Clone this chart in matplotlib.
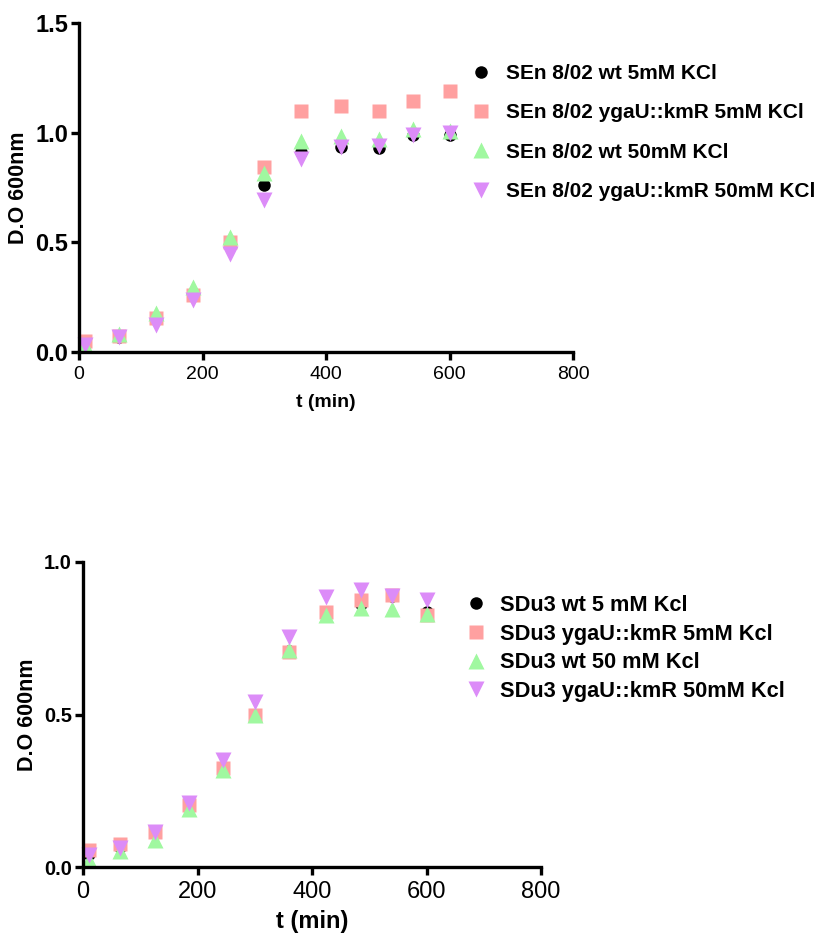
import matplotlib
matplotlib.use('Agg')
import matplotlib.pyplot as plt

plt.rcParams['font.family'] = ['Liberation Sans', 'DejaVu Sans']

t = [10, 65, 125, 185, 245, 300, 360, 425, 485, 540, 600]

# top panel: SEn 8/02
sen_labels = ['SEn 8/02 wt 5mM KCl', 'SEn 8/02 ygaU::kmR 5mM KCl',
              'SEn 8/02 wt 50mM KCl', 'SEn 8/02 ygaU::kmR 50mM KCl']
sen_wt5 = [0.03, 0.07, 0.15, 0.27, 0.49, 0.76, 0.91, 0.935, 0.93, 0.99, 0.99]
sen_ko5 = [0.05, 0.075, 0.155, 0.26, 0.50, 0.845, 1.10, 1.12, 1.10, 1.145, 1.19]
sen_wt50 = [0.033, 0.08, 0.178, 0.295, 0.523, 0.818, 0.96, 0.985, 0.97, 1.015, 1.01]
sen_ko50 = [0.033, 0.068, 0.125, 0.238, 0.448, 0.693, 0.879, 0.936, 0.94, 0.99, 0.997]

# bottom panel: SDu3
sdu_labels = ['SDu3 wt 5 mM Kcl', 'SDu3 ygaU::kmR 5mM Kcl',
              'SDu3 wt 50 mM Kcl', 'SDu3 ygaU::kmR 50mM Kcl']
sdu_wt5 = [0.044, 0.066, 0.115, 0.208, 0.328, 0.50, 0.708, 0.836, 0.863, 0.89, 0.836]
sdu_ko5 = [0.055, 0.074, 0.115, 0.202, 0.326, 0.50, 0.705, 0.836, 0.874, 0.893, 0.825]
sdu_wt50 = [0.022, 0.052, 0.087, 0.191, 0.317, 0.497, 0.71, 0.827, 0.849, 0.847, 0.83]
sdu_ko50 = [0.04, 0.063, 0.115, 0.21, 0.352, 0.541, 0.754, 0.885, 0.907, 0.89, 0.874]

styles = [dict(marker='o', color='black', ms=9),
          dict(marker='s', color='#ffa0a0', ms=10),
          dict(marker='^', color='#a0f8a0', ms=11),
          dict(marker='v', color='#dc8cf8', ms=11)]

fig = plt.figure(figsize=(8.18, 9.34), dpi=100)
ax1 = fig.add_axes([0.0966, 0.6231, 0.604, 0.3522])
ax2 = fig.add_axes([0.1015, 0.0717, 0.56, 0.3266])


def style_axes(ax, ymax, yticks, xfs, yfs, xlfs, xlpad):
    for s in ['top', 'right']:
        ax.spines[s].set_visible(False)
    for s in ['left', 'bottom']:
        ax.spines[s].set_linewidth(2.4)
    ax.set_xlim(0, 800)
    ax.set_ylim(0, ymax)
    ax.set_xticks([0, 200, 400, 600, 800])
    ax.set_yticks(yticks)
    ax.set_yticklabels(['%.1f' % v for v in yticks], fontweight='bold')
    ax.tick_params(width=2.4, length=6, direction='out')
    ax.tick_params(axis='x', labelsize=xfs, pad=4)
    ax.tick_params(axis='y', labelsize=yfs, pad=2)
    ax.set_xlabel('t (min)', fontsize=xlfs, fontweight='bold', labelpad=xlpad)
    ax.set_ylabel('D.O 600nm', fontsize=15.5, fontweight='bold', labelpad=4)


for ys, lab, st in zip([sen_wt5, sen_ko5, sen_wt50, sen_ko50], sen_labels, styles):
    ax1.plot(t, ys, ls='none', marker=st['marker'], color=st['color'],
             ms=st['ms'], mec='none', label=lab, clip_on=False)
style_axes(ax1, 1.5, [0.0, 0.5, 1.0, 1.5], 14, 17, 14, 8)
ax1.legend(loc='upper left', bbox_to_anchor=(0.576, 0.9313), bbox_transform=fig.transFigure,
           frameon=False, numpoints=1, handlelength=0.93, handletextpad=0.72,
           borderpad=0, borderaxespad=0, labelspacing=0.975,
           prop=dict(size=15, weight='bold'))

for ys, lab, st in zip([sdu_wt5, sdu_ko5, sdu_wt50, sdu_ko50], sdu_labels, styles):
    ax2.plot(t, ys, ls='none', marker=st['marker'], color=st['color'],
             ms=st['ms'], mec='none', label=lab, clip_on=False)
style_axes(ax2, 1.0, [0.0, 0.5, 1.0], 17, 14.5, 17, 5)
ax2.legend(loc='upper left', bbox_to_anchor=(0.570, 0.3632), bbox_transform=fig.transFigure,
           frameon=False, numpoints=1, handlelength=0.89, handletextpad=0.66,
           borderpad=0, borderaxespad=0, labelspacing=0.355,
           prop=dict(size=15.7, weight='bold'))

fig.savefig('out.png', dpi=100)
